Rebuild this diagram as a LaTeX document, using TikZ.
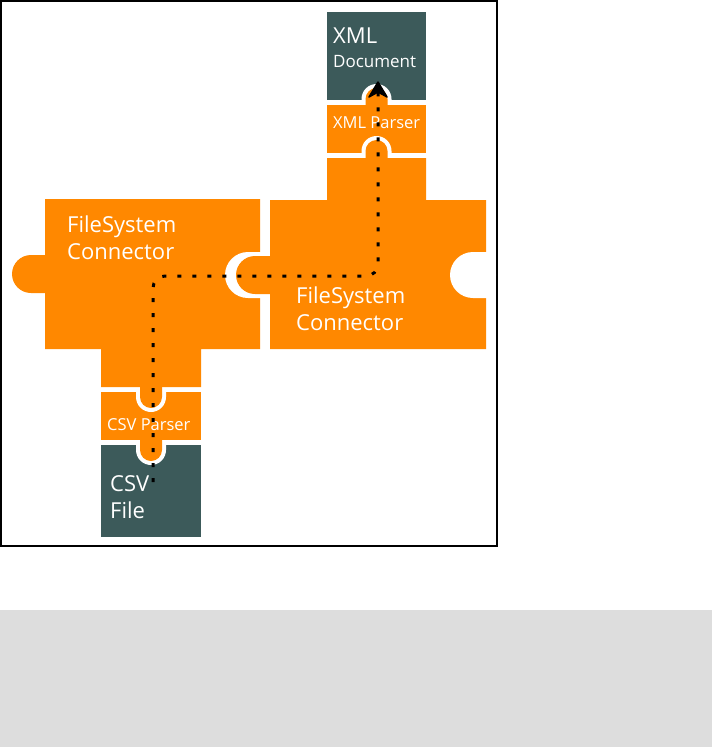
\documentclass[tikz,border=0pt]{standalone}
\usepackage{fontspec}
\setmainfont{Open Sans}
\definecolor{puzzleorange}{RGB}{255,136,0}
\definecolor{docslate}{RGB}{60,90,90}
\definecolor{pagegray}{RGB}{221,221,221}

\begin{document}
\begin{tikzpicture}[x=1pt, y=-1pt]
    \tikzset{orangepart/.style={fill=puzzleorange},
             slatepart/.style={fill=docslate},
             gap/.style={fill=white},
             lbl/.style={anchor=base west, inner sep=0pt, text=white},
             biglbl/.style={lbl, font=\fontsize{22}{26}\selectfont},
             midlbl/.style={lbl, font=\fontsize{17}{20}\selectfont},
             smalllbl/.style={lbl, font=\fontsize{16.5}{20}\selectfont},
             flow/.style={line width=3pt, dash pattern=on 4pt off 11pt, rounded corners=12pt},
             flowhead/.style={fill=black, draw=black, line width=1.5pt, line join=round}}
    \useasboundingbox (0,0) rectangle (712,747);
    \fill[pagegray] (0,610) rectangle (712,747);
    \draw[line width=1.5pt] (1,1) rectangle (497,546);
    % XML document
    \fill[slatepart] (327,12) rectangle (426,100);
    \fill[gap] (376.5,99) circle (15pt) (361.5,99) rectangle (391.5,102);
    % XML parser
    \fill[orangepart] (327,105) rectangle (426,153);
    \fill[orangepart] (376.5,99) circle (11pt) (365.5,99) rectangle (387.5,106);
    \fill[gap] (376.5,151) circle (15pt) (361.5,151) rectangle (391.5,155);
    % CSV file
    \fill[slatepart] (101,445) rectangle (201,537);
    \fill[gap] (151,450) circle (15pt) (136,443) rectangle (166,450);
    % CSV parser
    \fill[orangepart] (101,392) rectangle (201,440);
    \fill[orangepart] (151,450) circle (11pt) (140,439) rectangle (162,450);
    \fill[gap] (151,397) circle (15pt) (136,390) rectangle (166,397);
    % left FileSystem connector
    \fill[orangepart] (45,199) rectangle (260,349) (101,348) rectangle (201,387);
    \fill[orangepart] (31,274) circle (19pt) (31,255) rectangle (46,293);
    \fill[orangepart] (151,397) circle (11pt) (140,386) rectangle (162,397);
    \fill[gap] (248,275) circle (23pt) (248,252) rectangle (262,298);
    % right FileSystem connector
    \fill[orangepart] (327,158) rectangle (426,201) (270,200) rectangle (486,349);
    \fill[orangepart] (376.5,151) circle (11pt) (365.5,151) rectangle (387.5,159);
    \fill[orangepart] (255,275) circle (19pt) (255,256) rectangle (271,294);
    \fill[gap] (473,275) circle (23pt) (473,252) rectangle (487,298);

    \node[biglbl] (xmltitle) at (333,43) {XML};
    \node[midlbl] (xmlsub) at (333,67) {Document};
    \node[smalllbl] (xmlparse) at (333,128) {XML Parser};
    \node[biglbl] (fsltop) at (67,232) {FileSystem};
    \node[biglbl] (fslbot) at (67,259) {Connector};
    \node[biglbl] (fsrtop) at (296,303) {FileSystem};
    \node[biglbl] (fsrbot) at (296,330) {Connector};
    \node[smalllbl] (csvparse) at (107,430) {CSV Parser};
    \node[biglbl] (csvtitle) at (110,491) {CSV};
    \node[biglbl] (csvsub) at (110,518) {File};

    \coordinate (flowstart) at (153,482);
    \coordinate (flowend) at (378,82);
    \draw[flow] (flowstart) |- (378,276) -- (378,93);
    \draw[flowhead] (flowend) -- ++(9,15) -- ++(-9,-5) -- ++(-9,5) -- cycle;
\end{tikzpicture}
\end{document}
